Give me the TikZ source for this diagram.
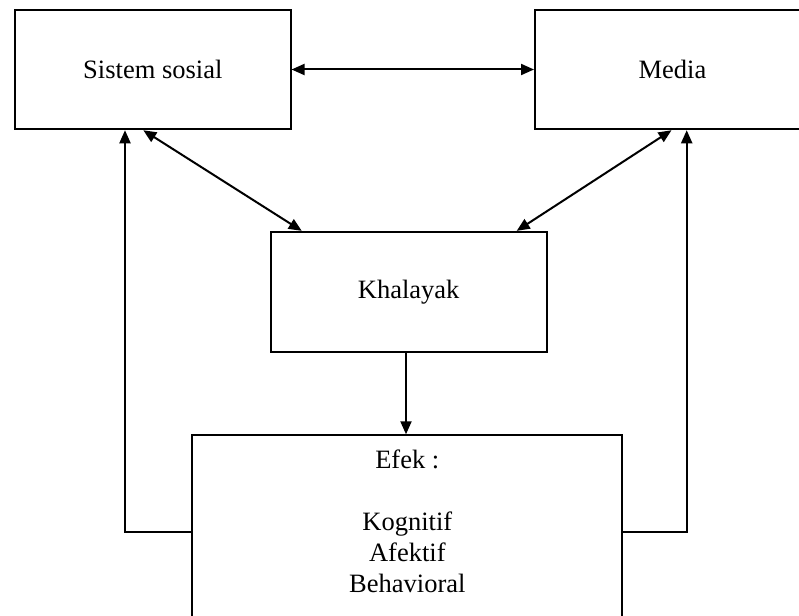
\documentclass[tikz,border=0pt]{standalone}
\usepackage{fontspec}
\setmainfont{Liberation Serif}
\usetikzlibrary{arrows.meta}
\begin{document}
\begin{tikzpicture}[x=1pt,y=-1pt,
  boxnode/.style={draw,line width=2pt,inner sep=0pt,
    font=\fontsize{26.5}{31}\selectfont},
  txtnode/.style={inner sep=0pt,align=center,
    font=\fontsize{26.5}{31}\selectfont},
  arr/.style={line width=2pt,-{Triangle[length=13pt,width=11pt]}},
  darr/.style={line width=2pt,{Triangle[length=13pt,width=11pt]}-{Triangle[length=13pt,width=11pt]}}]
\useasboundingbox (0,0) rectangle (799,615);
\clip (0,0) rectangle (799,615);
\fill[white] (0,0) rectangle (799,615);
\node[boxnode,minimum width=275.5pt,minimum height=119.5pt] (ss) at (152.8,69.5) {Sistem sosial};
\node[boxnode,minimum width=275pt,minimum height=119.5pt] (media) at (672.5,69.5) {Media};
\node[boxnode,minimum width=276pt,minimum height=120.3pt] (kh) at (408.7,292) {Khalayak};
\node[boxnode,minimum width=430pt,minimum height=193.4pt,anchor=north] (efek) at (407.3,434.3) {};
\node[txtnode,anchor=north] (efektxt) at (407.3,450) {Efek :\\[31pt]Kognitif\\Afektif\\Behavioral};
\coordinate (lc) at (125,0);
\coordinate (rc) at (686.7,0);
\coordinate (dc) at (406,0);
\draw[darr] (ss.east) -- (media.west);
\draw[darr] ([xshift=-9.5pt]ss.south) -- ([xshift=-107pt]kh.north);
\draw[darr] ([xshift=-1pt]media.south) -- ([xshift=108pt]kh.north);
\draw[arr] (kh.south -| dc) -- (efek.north -| dc);
\draw[arr] (efek.west) -| (ss.south -| lc);
\draw[arr] (efek.east) -| (media.south -| rc);
\end{tikzpicture}
\end{document}
